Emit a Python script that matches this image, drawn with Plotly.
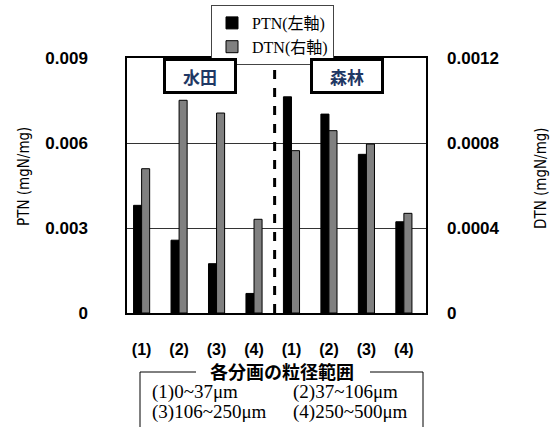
import plotly.graph_objects as go

categories = ["(1)", "(2)", "(3)", "(4)", "(1)", "(2)", "(3)", "(4)"]
ptn_values = [0.0038, 0.00257, 0.00174, 0.00069, 0.00763, 0.00702, 0.0056, 0.00322]
dtn_values = [0.000679, 0.001001, 0.000941, 0.000441, 0.000764, 0.000858, 0.000795, 0.000469]
left_ticks = [0, 0.003, 0.006, 0.009]
left_tick_text = ["0", "0.003", "0.006", "0.009"]
right_ticks = [0, 0.0004, 0.0008, 0.0012]
right_tick_text = ["0", "0.0004", "0.0008", "0.0012"]
group_labels = ["水田", "森林"]
legend_names = ["PTN(左軸)", "DTN(右軸)"]
range_title = "各分画の粒径範囲"
range_rows = [["(1)0~37μm", "(2)37~106μm"], ["(3)106~250μm", "(4)250~500μm"]]

xs = list(range(len(categories)))
W, H = 551, 427
L, R, T, B = 127, 125, 58, 114
pw, ph = W - L - R, H - T - B

def px_x(p):
    return (p - L) / pw

def px_y(p):
    return (H - B - p) / ph

fig = go.Figure()
fig.add_trace(go.Bar(x=xs, y=ptn_values, name=legend_names[0], yaxis="y",
                     width=0.215, offset=-0.215,
                     marker=dict(color="black", line=dict(color="black", width=1))))
fig.add_trace(go.Bar(x=xs, y=dtn_values, name=legend_names[1], yaxis="y2",
                     width=0.215, offset=0,
                     marker=dict(color="#808080", line=dict(color="black", width=1))))

tickfont = dict(family="Liberation Sans, Arial", size=17, color="black", weight="bold")

fig.update_layout(
    width=W, height=H,
    margin=dict(l=L, r=R, t=T, b=B, autoexpand=False),
    paper_bgcolor="white", plot_bgcolor="white",
    showlegend=True,
    legend=dict(x=px_x(211), y=px_y(5), xanchor="left", yanchor="top",
                bgcolor="white", bordercolor="#444", borderwidth=1,
                font=dict(family="Liberation Serif, Noto Sans CJK JP", size=16, color="black"),
                itemwidth=30, tracegroupgap=0),
    xaxis=dict(range=[-0.39, 7.59], tickvals=xs, ticktext=categories,
               tickfont=dict(family="Liberation Sans, Arial", size=16, color="black", weight="bold"),
               showline=True, linecolor="black", linewidth=1.5, mirror=True,
               ticks="", showgrid=False, ticklabelstandoff=21, zeroline=False),
    yaxis=dict(range=[0, 0.009], tickvals=left_ticks, ticktext=left_tick_text,
               tickfont=tickfont, showgrid=True, gridcolor="#333", gridwidth=1,
               showline=True, linecolor="black", linewidth=1.5, mirror=True,
               ticks="", ticklabelstandoff=34, zeroline=False),
    yaxis2=dict(range=[0, 0.0012], tickvals=right_ticks, ticktext=right_tick_text,
                tickfont=tickfont, overlaying="y", side="right", showgrid=False,
                showline=False, ticks="", ticklabelstandoff=20, zeroline=False),
)

# dashed separator
fig.add_shape(type="line", xref="x", yref="paper", x0=3.55, x1=3.55, y0=0, y1=1,
              line=dict(color="black", width=3, dash="dash"))

# group label boxes
for cx, lab in zip([1.555, 5.475], group_labels):
    fig.add_annotation(x=cx, xref="x", y=1, yref="paper", yanchor="top", xanchor="center",
                       text="<b>%s</b>" % lab, showarrow=False,
                       font=dict(family="Noto Sans CJK JP", size=17, color="#1F3864"),
                       bgcolor="white", bordercolor="black", borderwidth=3,
                       width=66, height=28, borderpad=1)

# axis titles
title_font = dict(family="Liberation Sans Narrow, DejaVu Sans Condensed, Liberation Sans", size=15, color="black")
fig.add_annotation(x=px_x(24), y=px_y(177), xref="paper", yref="paper", showarrow=False,
                   xanchor="center", yanchor="middle",
                   text="PTN (mgN/mg)", textangle=-90, font=title_font)
fig.add_annotation(x=px_x(541), y=px_y(178), xref="paper", yref="paper", showarrow=False,
                   xanchor="center", yanchor="middle",
                   text="DTN (mgN/mg)", textangle=-90, font=title_font)

# particle size range box
fig.add_annotation(x=px_x(282), y=px_y(371), xref="paper", yref="paper", showarrow=False,
                   xanchor="center", yanchor="middle",
                   text="<b>%s</b>" % range_title,
                   font=dict(family="Noto Sans CJK JP", size=18, color="black"))
for x0, x1 in [(140, 196), (370, 423)]:
    fig.add_shape(type="line", xref="paper", yref="paper", x0=px_x(x0), x1=px_x(x1),
                  y0=px_y(372), y1=px_y(372), line=dict(color="black", width=1))
for xv in [140, 423]:
    fig.add_shape(type="line", xref="paper", yref="paper", x0=px_x(xv), x1=px_x(xv),
                  y0=px_y(372), y1=px_y(430), line=dict(color="black", width=1))
for row, yp in zip(range_rows, [392, 412]):
    for txt, xp in zip(row, [150, 291]):
        fig.add_annotation(x=px_x(xp), y=px_y(yp), xref="paper", yref="paper", showarrow=False,
                           xanchor="left", yanchor="middle", text=txt,
                           font=dict(family="Liberation Serif, Noto Sans CJK JP", size=19, color="black"))

fig.write_html("out.html", config={"displayModeBar": False},
               post_script="document.body.style.margin='0';document.body.style.padding='0';")
